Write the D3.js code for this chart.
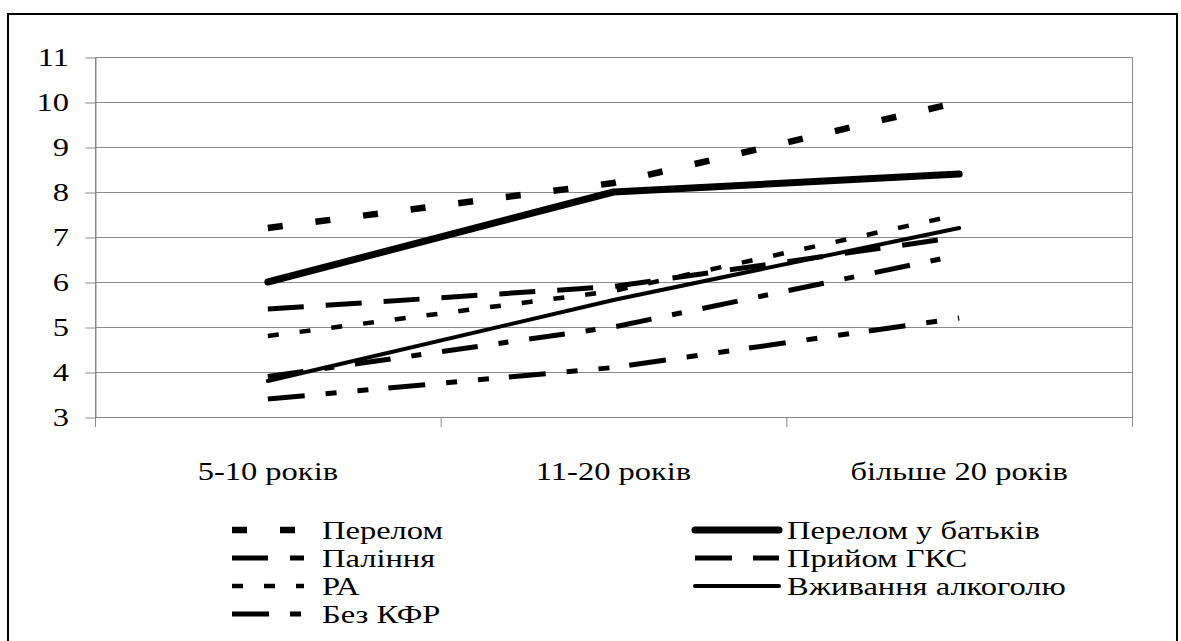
<!DOCTYPE html>
<html>
<head>
<meta charset="utf-8">
<script src="https://cdn.jsdelivr.net/npm/d3@7"></script>
<style>
  html, body { margin: 0; padding: 0; background: #fff; }
  svg { display: block; }
</style>
</head>
<body>
<svg id="chart" width="1181" height="641"></svg>
<script>
// ---- data ----
const categories = ["5-10 років", "11-20 років", "більше 20 років"];
const yTicks = [3, 4, 5, 6, 7, 8, 9, 10, 11];
const seriesNames = ["Перелом", "Перелом у батьків", "Паління", "Прийом ГКС", "РА", "Вживання алкоголю", "Без КФР"];
const perelom        = [7.2, 8.2, 10.0];
const perelomBatkiv  = [6.0, 8.0, 8.4];
const palinnya       = [5.4, 5.9, 7.0];
const gks            = [3.9, 5.0, 6.6];
const ra             = [4.8, 5.8, 7.5];
const alcohol        = [3.8, 5.6, 7.2];
const bezKFR         = [3.4, 4.1, 5.2];
const seriesValues = [perelom, perelomBatkiv, palinnya, gks, ra, alcohol, bezKFR];

// ---- styles ----
const styles = [
  { w: 6.5, dash: "15,33", cap: "butt" },
  { w: 7, dash: null, cap: "round" },
  { w: 5, dash: "36,22", cap: "butt" },
  { w: 5, dash: "36,21,10,21", cap: "butt", legendDash: "37,21,30" },
  { w: 4.5, dash: "11,21", cap: "butt" },
  { w: 4, dash: null, cap: "round" },
  { w: 5, dash: "37,21,11,21,11,20", cap: "butt" }
];

const svg = d3.select("#chart");
const SX = 1.25; // horizontal stretch of text as in reference
const FS = 26;
const FONT = "'Liberation Serif', 'Noto Serif', 'DejaVu Serif', serif";

function stretchedText(g, px, py, str, anchor) {
  return g.append("text")
    .attr("transform", `translate(${px},${py}) scale(${SX},1)`)
    .attr("text-anchor", anchor)
    .attr("font-family", FONT)
    .style("font-family", FONT)
    .attr("font-size", FS)
    .attr("fill", "#000")
    .text(str);
}

// outer frame
svg.append("rect").attr("x", 8).attr("y", 14).attr("width", 1169).attr("height", 640)
  .attr("fill", "none").attr("stroke", "#000").attr("stroke-width", 2);

const pLeft = 95, pRight = 1132, pTop = 57, pBottom = 417;
const x = d3.scaleBand().domain(categories).range([pLeft, pRight]).padding(0);
const y = d3.scaleLinear().domain([3, 11]).range([pBottom, pTop]);

const grid = svg.append("g");
grid.selectAll("line.h").data(yTicks).join("line")
  .attr("x1", pLeft).attr("x2", pRight)
  .attr("y1", d => y(d) + 0.5).attr("y2", d => y(d) + 0.5)
  .attr("stroke", "#8a8a8a").attr("stroke-width", 1);

// y axis
const yAxis = d3.axisLeft(y).tickValues(yTicks).tickSize(10).tickSizeOuter(0).tickFormat(d3.format("d"));
const yg = svg.append("g").attr("transform", `translate(${pLeft + 0.5},0.5)`).call(yAxis);
yg.select(".domain").attr("stroke", "#8a8a8a");
yg.selectAll(".tick line").attr("stroke", "#8a8a8a");
yg.selectAll(".tick text").remove();
yTicks.forEach(t => {
  stretchedText(svg, 69, y(t) + 9, String(t), "end");
});

// x axis
svg.append("line").attr("x1", pLeft).attr("x2", pRight).attr("y1", pBottom + 0.5).attr("y2", pBottom + 0.5)
  .attr("stroke", "#8a8a8a");
const boundaries = categories.map(c => x(c)).concat([pRight]);
svg.selectAll("line.xt").data(boundaries).join("line")
  .attr("x1", d => d + 0.5).attr("x2", d => d + 0.5)
  .attr("y1", d => (d === pRight || d === pLeft ? pTop : pBottom)).attr("y2", pBottom + 10)
  .attr("stroke", "#8a8a8a");
categories.forEach(c => {
  stretchedText(svg, x(c) + x.bandwidth() / 2, 480, c, "middle");
});

// lines
const line = d3.line()
  .x((d, i) => x(categories[i]) + x.bandwidth() / 2)
  .y(d => y(d));

const lg = svg.append("g");
seriesValues.forEach((vals, i) => {
  const s = styles[i];
  lg.append("path")
    .attr("d", line(vals))
    .attr("fill", "none")
    .attr("stroke", "#000")
    .attr("stroke-width", s.w)
    .attr("stroke-dasharray", s.dash)
    .attr("stroke-linecap", s.cap)
    .attr("stroke-linejoin", "round");
});

// legend
const legendCols = [
  { x1: 232, x2: 304, tx: 322 },
  { x1: 695, x2: 779, tx: 787 }
];
const rowY = [530, 558, 586, 614];
seriesNames.forEach((name, i) => {
  const col = legendCols[i % 2];
  const row = Math.floor(i / 2);
  const s = styles[i];
  const yy = rowY[row];
  svg.append("line")
    .attr("x1", col.x1).attr("x2", col.x2)
    .attr("y1", yy).attr("y2", yy)
    .attr("stroke", "#000")
    .attr("stroke-width", s.w)
    .attr("stroke-dasharray", s.legendDash || s.dash)
    .attr("stroke-linecap", s.cap);
  stretchedText(svg, col.tx, yy + 9, name, "start");
});
</script>
</body>
</html>
